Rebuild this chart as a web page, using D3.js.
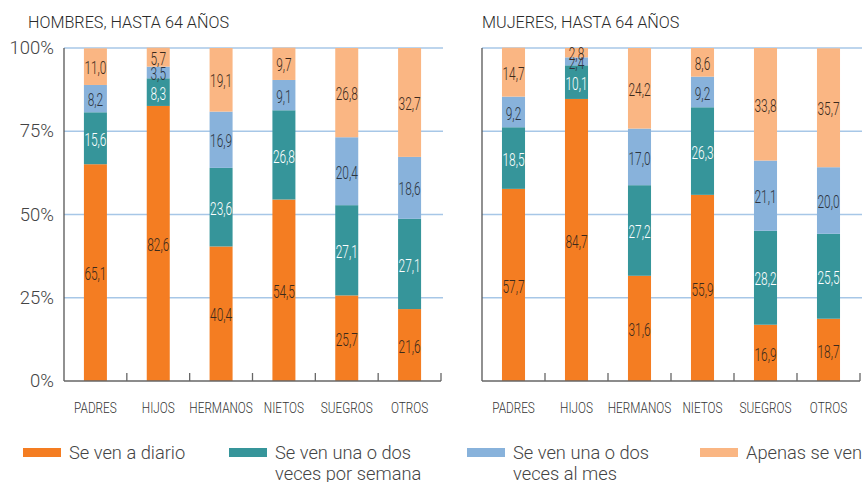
<!DOCTYPE html>
<html lang="es">
<head>
<meta charset="utf-8">
<script src="https://cdn.jsdelivr.net/npm/d3@7"></script>
<style>
  html, body { margin: 0; padding: 0; background: #fff; }
  svg { display: block; font-family: Roboto, "Open Sans", "Liberation Sans", sans-serif; }
</style>
</head>
<body>
<svg id="chart" width="864" height="482"></svg>
<script>
// Frequency of contact with relatives, people up to 64 years old (%)
const categories = ["PADRES", "HIJOS", "HERMANOS", "NIETOS", "SUEGROS", "OTROS"];
const seriesKeys = ["diario", "semana", "mes", "apenas"];
const legendLabels = [
  ["Se ven a diario"],
  ["Se ven una o dos", "veces por semana"],
  ["Se ven una o dos", "veces al mes"],
  ["Apenas se ven"]
];
const seriesColors = ["#f47d22", "#36959a", "#88b2db", "#fab683"];
const labelColors = ["#3b2a1c", "#ffffff", "#2c3440", "#3b2a1c"];

const hombresDiario = [65.1, 82.6, 40.4, 54.5, 25.7, 21.6];
const hombresSemana = [15.6, 8.3, 23.6, 26.8, 27.1, 27.1];
const hombresMes    = [8.2, 3.5, 16.9, 9.1, 20.4, 18.6];
const hombresApenas = [11.0, 5.7, 19.1, 9.7, 26.8, 32.7];

const mujeresDiario = [57.7, 84.7, 31.6, 55.9, 16.9, 18.7];
const mujeresSemana = [18.5, 10.1, 27.2, 26.3, 28.2, 25.5];
const mujeresMes    = [9.2, 2.4, 17.0, 9.2, 21.1, 20.0];
const mujeresApenas = [14.7, 2.8, 24.2, 8.6, 33.8, 35.7];

const yTicks = [0, 25, 50, 75, 100];

function rows(d1, d2, d3, d4) {
  return categories.map((c, i) => ({ cat: c, diario: d1[i], semana: d2[i], mes: d3[i], apenas: d4[i] }));
}

const panels = [
  { title: "HOMBRES, HASTA 64 AÑOS", x0: 64, x1: 441, titleX: 28, yLabels: true,
    data: rows(hombresDiario, hombresSemana, hombresMes, hombresApenas) },
  { title: "MUJERES, HASTA 64 AÑOS", x0: 482, x1: 860, titleX: 482, yLabels: false,
    data: rows(mujeresDiario, mujeresSemana, mujeresMes, mujeresApenas) }
];

const svg = d3.select("#chart");
const y = d3.scaleLinear().domain([0, 100]).range([381, 48]);
const fmt = v => d3.format(".1f")(v).replace(".", ",");
const stack = d3.stack().keys(seriesKeys);

panels.forEach(p => {
  const g = svg.append("g");
  const x = d3.scaleBand().domain(categories).range([p.x0, p.x1]).padding(0);
  const barW = x.bandwidth() * 0.366;

  // title
  g.append("text")
    .attr("x", p.titleX).attr("y", 28)
    .attr("font-size", 16.2).attr("font-weight", 300).attr("fill", "#2a2a2a")
    .text(p.title);

  // gridlines
  g.selectAll("line.grid").data(yTicks.filter(t => t > 0)).join("line")
    .attr("class", "grid")
    .attr("x1", p.x0).attr("x2", p.x1 + 2)
    .attr("y1", d => y(d)).attr("y2", d => y(d))
    .attr("stroke", "#a7c7e7").attr("stroke-width", 1.3);

  // y tick labels
  if (p.yLabels) {
    g.selectAll("text.ytick").data(yTicks).join("text")
      .attr("class", "ytick")
      .attr("x", 54).attr("y", d => y(d) + 6)
      .attr("text-anchor", "end")
      .attr("font-size", 18.5).attr("font-weight", 300).attr("fill", "#444")
      .text(d => d + "%");
  }

  // stacked bars
  const layers = stack(p.data);
  layers.forEach((layer, si) => {
    const lg = g.append("g");
    lg.selectAll("rect").data(layer).join("rect")
      .attr("x", d => x(d.data.cat) + (x.bandwidth() - barW) / 2)
      .attr("width", barW)
      .attr("y", d => y(d[1]))
      .attr("height", d => y(d[0]) - y(d[1]))
      .attr("fill", seriesColors[si]);
    lg.selectAll("text").data(layer).join("text")
      .attr("transform", d => `translate(${x(d.data.cat) + x.bandwidth() / 2},${(y(d[0]) + y(d[1])) / 2 + 1.5}) scale(0.68,1)`)
      .attr("text-anchor", "middle").attr("dy", "0.35em")
      .attr("font-size", 17.5).attr("font-weight", 300).attr("fill", labelColors[si])
      .text(d => fmt(d.data[layer.key]));
  });

  // axes lines
  g.append("line")
    .attr("x1", p.x0).attr("x2", p.x0).attr("y1", y(100)).attr("y2", y(0))
    .attr("stroke", "#555").attr("stroke-width", 1.3);
  g.append("line")
    .attr("x1", p.x0).attr("x2", p.x1).attr("y1", y(0)).attr("y2", y(0))
    .attr("stroke", "#666").attr("stroke-width", 1.5);
  const bounds = categories.map(c => x(c) + x.step());
  g.selectAll("line.xtick").data(bounds).join("line")
    .attr("class", "xtick")
    .attr("x1", d => d).attr("x2", d => d)
    .attr("y1", y(0)).attr("y2", y(0) - 8)
    .attr("stroke", "#666").attr("stroke-width", 1.3);

  // category labels
  g.selectAll("text.cat").data(categories).join("text")
    .attr("class", "cat")
    .attr("transform", d => `translate(${x(d) + x.bandwidth() / 2},413) scale(0.76,1)`)
    .attr("text-anchor", "middle")
    .attr("font-size", 15.5).attr("font-weight", 300).attr("fill", "#333")
    .text(d => d);
});

// legend
const legendX = [23, 229, 467, 700];
const lg = svg.append("g");
legendLabels.forEach((lines, i) => {
  lg.append("rect")
    .attr("x", legendX[i]).attr("y", 448).attr("width", 38).attr("height", 9)
    .attr("fill", seriesColors[i]);
  const t = lg.append("text")
    .attr("x", legendX[i] + 46).attr("y", 459)
    .attr("font-size", 18.3).attr("font-weight", 300).attr("fill", "#444");
  lines.forEach((ln, j) => {
    t.append("tspan").attr("x", legendX[i] + 46).attr("dy", j === 0 ? 0 : 21).text(ln);
  });
});
</script>
</body>
</html>
